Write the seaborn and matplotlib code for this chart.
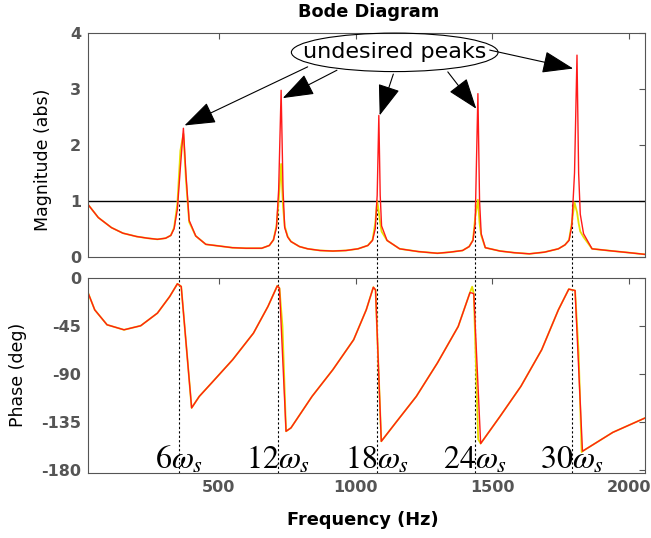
import numpy as np
import pandas as pd
import seaborn as sns
import matplotlib
matplotlib.use("Agg")
import matplotlib.pyplot as plt
from matplotlib.patches import Ellipse

# スタイル設定
sns.set_theme(style="white")
plt.rcParams['font.family'] = ['DejaVu Sans']
plt.rcParams['mathtext.fontset'] = 'stix'
plt.rcParams['axes.unicode_minus'] = False

# 振幅 (magnitude) データ
freq_mag = [20, 60, 108, 150, 200, 240, 276, 306, 325, 337, 349, 360, 371, 380, 392,
            416, 453, 502, 550, 600, 657, 685, 700, 711, 719, 728, 735, 741, 752, 764,
            795, 825, 870, 917, 965, 1009, 1045, 1062, 1072, 1079, 1085, 1090, 1095,
            1115, 1161, 1230, 1299, 1345, 1391, 1415, 1429, 1437, 1447, 1453, 1459,
            1474, 1528, 1580, 1635, 1690, 1741, 1765, 1780, 1790, 1800, 1809, 1815,
            1821, 1833, 1864, 1940, 2001, 2058]
mag_red = [0.95, 0.70, 0.52, 0.42, 0.36, 0.33, 0.31, 0.33, 0.38, 0.50, 0.85, 1.60, 2.30, 1.50, 0.65,
           0.37, 0.22, 0.19, 0.16, 0.15, 0.15, 0.20, 0.30, 0.52, 1.20, 2.98, 1.20, 0.52, 0.35, 0.27,
           0.18, 0.14, 0.11, 0.10, 0.11, 0.14, 0.20, 0.29, 0.50, 1.10, 2.53, 1.10, 0.55,
           0.29, 0.14, 0.09, 0.06, 0.08, 0.11, 0.18, 0.29, 0.60, 2.92, 1.00, 0.41,
           0.16, 0.10, 0.07, 0.05, 0.08, 0.14, 0.21, 0.29, 0.55, 1.50, 3.61, 1.50,
           0.76, 0.41, 0.14, 0.10, 0.07, 0.04]
mag_yellow = [0.95, 0.70, 0.52, 0.42, 0.36, 0.33, 0.31, 0.33, 0.38, 0.52, 0.95, 1.90, 2.20, 1.40, 0.62,
              0.37, 0.22, 0.19, 0.16, 0.15, 0.15, 0.20, 0.30, 0.55, 1.00, 1.66, 0.90, 0.55, 0.36, 0.27,
              0.18, 0.14, 0.11, 0.10, 0.11, 0.14, 0.20, 0.30, 0.60, 1.00, 0.80, 0.60, 0.45,
              0.29, 0.14, 0.09, 0.06, 0.08, 0.11, 0.18, 0.30, 0.70, 1.02, 0.60, 0.38,
              0.16, 0.10, 0.07, 0.05, 0.08, 0.14, 0.21, 0.30, 0.60, 0.97, 0.80, 0.60,
              0.45, 0.35, 0.14, 0.10, 0.07, 0.04]

# 位相 (phase) データ
freq_ph = [20, 47, 92, 154, 215, 276, 321, 349, 363, 401, 429, 474, 551, 627, 680,
           714, 722, 733, 746, 764, 841, 917, 993, 1039, 1065, 1073, 1094, 1146, 1222,
           1299, 1375, 1418, 1426, 1432, 1448, 1457, 1528, 1604, 1680, 1741, 1779,
           1802, 1815, 1826, 1829, 1940, 2058]
phase_red = [-12, -29.7, -43.7, -48.4, -44.6, -32.8, -17.2, -5.3, -7.8, -121.6, -110.8, -98.2, -76.4, -51.5, -26.5,
             -7.2, -9.4, -71, -143.5, -140.3, -110.8, -85.8, -57.7, -29.7, -8.5, -11, -152.9, -135.7, -110.8,
             -79.5, -45.3, -13.5, -14, -14.7, -104.5, -155, -129.5, -101.4, -67.1, -29.7, -10.3,
             -11.6, -84, -145, -162.2, -144.5, -131]
phase_yellow = [-12, -29.7, -43.7, -48.4, -44.6, -32.8, -17.2, -5.3, -7.8, -121.6, -110.8, -98.2, -76.4, -51.5, -26.5,
                -7.2, -9.4, -45, -143.5, -140.3, -110.8, -85.8, -57.7, -29.7, -8.5, -11, -152.9, -135.7, -110.8,
                -79.5, -45.3, -13.5, -8, -14.7, -151, -155, -129.5, -101.4, -67.1, -29.7, -10.3,
                -11.6, -70, -163, -162.2, -144.5, -131]

# 高調波 (6ωs ... 30ωs) と注釈
harmonics = [6, 12, 18, 24, 30]
harmonic_freq = [354, 718, 1078, 1437, 1790]
arrow_start = [(825, 3.40), (932, 3.34), (1138, 3.27), (1337, 3.31), (1490, 3.70)]
arrow_end = [(375, 2.35), (734, 2.84), (1088, 2.53), (1441, 2.65), (1795, 3.37)]

mag_ticks = [0, 1, 2, 3, 4]
phase_ticks = [0, -45, -90, -135, -180]
phase_ticklabels = ['0', '-45', '-90', '-135', '-180']
freq_ticks = [500, 1000, 1500, 2000]

RED = '#ff1a1a'
YEL = '#e6e000'
GRAY = '#555555'

mag_df = pd.DataFrame({'freq': freq_mag, 'red': mag_red, 'yellow': mag_yellow})
ph_df = pd.DataFrame({'freq': freq_ph, 'red': phase_red, 'yellow': phase_yellow})

fig = plt.figure(figsize=(6.51, 5.38), dpi=100)
pos1 = [0.135, 0.523, 0.856, 0.415]
pos2 = [0.135, 0.120, 0.856, 0.363]
ax1 = fig.add_axes(pos1)
ax2 = fig.add_axes(pos2)
ax2.patch.set_visible(False)

# 振幅プロット
sns.lineplot(data=mag_df, x='freq', y='yellow', color=YEL, lw=1.3, ax=ax1, sort=False, estimator=None)
sns.lineplot(data=mag_df, x='freq', y='red', color=RED, lw=1.0, ax=ax1, sort=False, estimator=None)
ax1.axhline(1, color='black', lw=1.0, zorder=1.8)

# 位相プロット
sns.lineplot(data=ph_df, x='freq', y='yellow', color=YEL, lw=1.3, ax=ax2, sort=False, estimator=None)
sns.lineplot(data=ph_df, x='freq', y='red', color=RED, lw=1.0, ax=ax2, sort=False, estimator=None)

# 破線 (両方の軸を貫く)
ymin = (pos2[1] - pos1[1]) / pos1[3]
for h in harmonic_freq:
    ax1.axvline(h, ymin=ymin, ymax=0.24, color='black', lw=0.8,
                ls=(0, (2, 2)), clip_on=False, zorder=1.5)

# ωs ラベル
for n, h in zip(harmonics, harmonic_freq):
    ax2.text(h, -179, r'$%d\omega_s$' % n, ha='center', va='baseline',
             fontsize=23, color='black')

# 楕円と矢印
ax1.add_patch(Ellipse((1143, 3.66), width=755, height=0.69, fill=False,
                      ec='black', lw=0.8, clip_on=False, zorder=5))
ax1.text(1143, 3.66, 'undesired peaks', ha='center', va='center',
         fontsize=16, color='black', zorder=6)
for s, e in zip(arrow_start, arrow_end):
    ax1.annotate('', xy=e, xytext=s,
                 arrowprops=dict(arrowstyle='-|>,head_length=1.4,head_width=0.5',
                                 mutation_scale=14, color='black', lw=0.8,
                                 shrinkA=0, shrinkB=0), zorder=6)

# 軸設定
for ax in (ax1, ax2):
    ax.set_xlim(22, 2058)
    ax.set_xticks(freq_ticks)
    ax.tick_params(direction='in', top=True, right=True, length=4, width=0.8,
                   color=GRAY, labelcolor=GRAY, labelsize=11.5, pad=5)
    for sp in ax.spines.values():
        sp.set_color(GRAY)
        sp.set_linewidth(0.8)

ax1.set_ylim(0, 4)
ax1.set_yticks(mag_ticks)
ax1.set_xticklabels([])
ax1.set_xlabel('')
ax1.set_ylabel('Magnitude (abs)', fontsize=12.5, color='black')
ax1.yaxis.set_label_coords(-0.065, 0.433)

ax2.set_ylim(-183, 0)
ax2.set_yticks(phase_ticks)
ax2.set_yticklabels(phase_ticklabels)
ax2.set_xticklabels([str(t) for t in freq_ticks])
ax2.set_ylabel('Phase (deg)', fontsize=12.5, color='black')
ax2.yaxis.set_label_coords(-0.110, 0.505)
ax2.set_xlabel('Frequency (Hz)', fontsize=12.8, fontweight='bold', color='black')
ax2.xaxis.set_label_coords(0.493, -0.19)

for ax in (ax1, ax2):
    for lbl in ax.get_xticklabels() + ax.get_yticklabels():
        lbl.set_fontweight('bold')

fig.text(0.567, 0.978, 'Bode Diagram', ha='center', va='center',
         fontsize=12.8, fontweight='bold', color='black')

fig.savefig('out.png', dpi=100)
